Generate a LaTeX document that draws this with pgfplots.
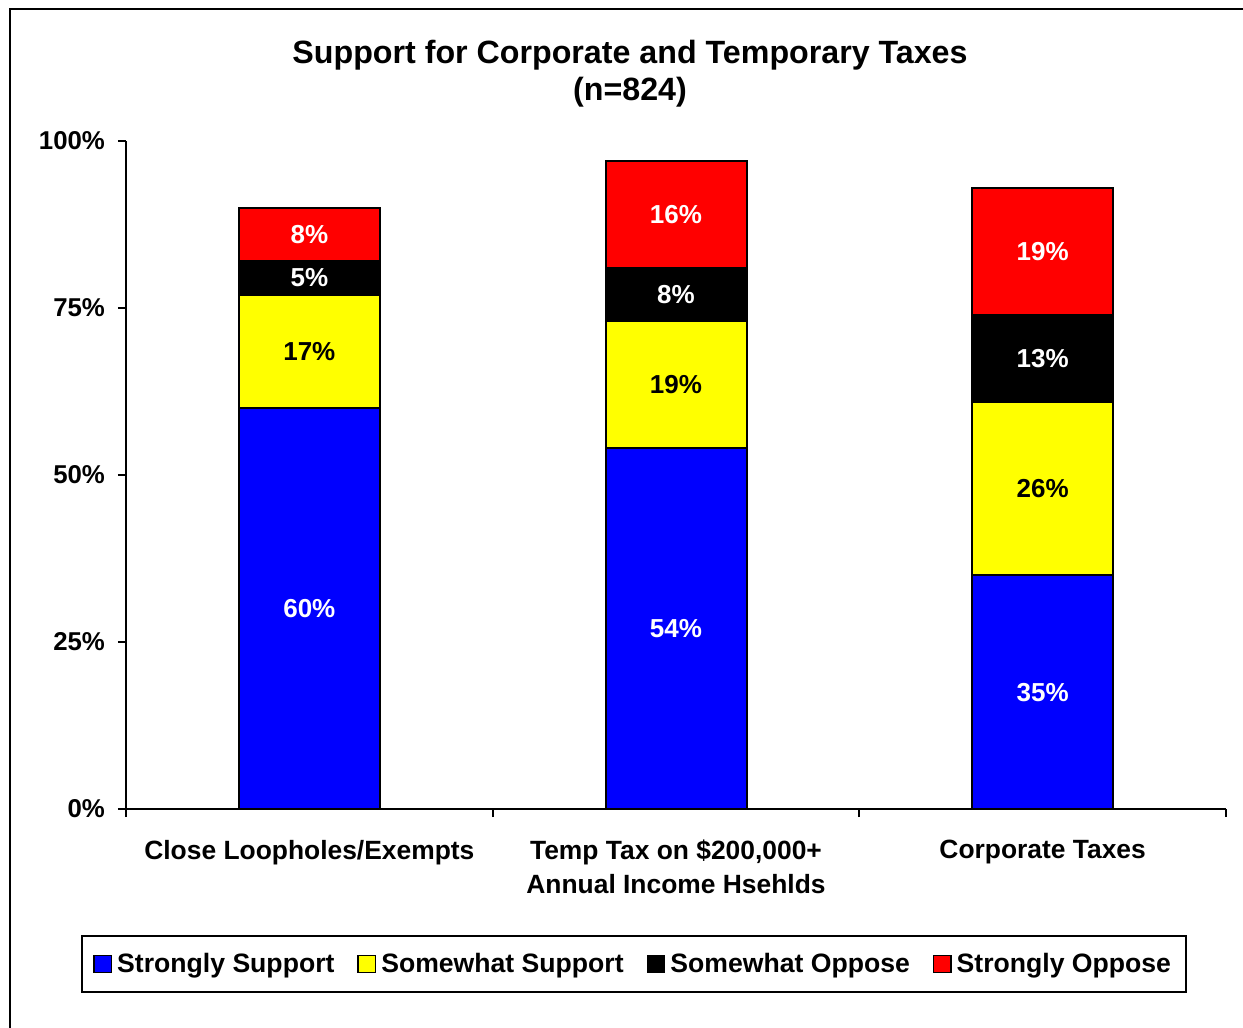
\documentclass[border=0pt]{standalone}
\usepackage{pgfplots}
\pgfplotsset{compat=1.18}
\usepackage{pgfplotstable}
\usepackage{fontspec}
\setmainfont{Liberation Sans}

\pgfplotstableread{
x ss sws swo so
0.5 60 17 5 8
1.5 54 19 8 16
2.5 35 26 13 19
}\data

% label positions (segment midpoints) and values
\pgfplotstableread{
x y v
0.5 30 60
1.5 27 54
2.5 17.5 35
0.5 79.5 5
1.5 77 8
2.5 67.5 13
0.5 86 8
1.5 89 16
2.5 83.5 19
}\whitelabels
\pgfplotstableread{
x y v
0.5 68.5 17
1.5 63.5 19
2.5 48 26
}\blacklabels

\definecolor{cblue}{RGB}{0,0,255}
\definecolor{cyellow}{RGB}{255,255,0}
\definecolor{cred}{RGB}{255,0,0}

\pgfplotsset{
  sq/.style={legend image code/.code={\draw[##1, line width=0.6pt, draw=black] (0pt,-4.4pt) rectangle (8.8pt,4.4pt);}},
  geom/.style={at={(63pt,-404.5pt)}, anchor=south west,
    scale only axis, width=550pt, height=334pt,
    xmin=0, xmax=3, ymin=0, ymax=100},
}

\begin{document}
\begin{tikzpicture}
\path[use as bounding box] (0pt,0pt) rectangle (621.5pt,-514pt);
\draw[line width=1.2pt] (5pt,-514pt) -- (5pt,-4.6pt) -- (621.5pt,-4.6pt);
\node[font=\bfseries\fontsize{16.1}{18.5}\selectfont, align=center] at (315pt,-37pt) {Support for Corporate and Temporary Taxes\\(n=824)};
\begin{axis}[
  geom,
  ybar stacked, bar width=70.5pt,
  axis lines*=left,
  axis line style={line width=1pt},
  every tick/.style={line width=1pt, black},
  tick align=outside, major tick length=4pt,
  xtick={0,1,2,3}, xticklabels={},
  extra x ticks={0.5,1.5,2.5},
  extra x tick labels={Close Loopholes/Exempts, {Temp Tax on \$200,000+\\Annual Income Hsehlds}, Corporate Taxes},
  extra x tick style={major tick length=0pt},
  x tick label style={align=center, yshift=-12pt, font=\bfseries\fontsize{13.2}{17}\selectfont},
  ytick={0,25,50,75,100},
  yticklabels={0\%,25\%,50\%,75\%,100\%},
  y tick label style={xshift=-3pt, font=\bfseries\fontsize{12.9}{15}\selectfont},
  legend style={at={(0.462,-0.232)}, anchor=center, legend columns=-1, draw=black, line width=1pt,
    font=\bfseries\fontsize{13.3}{15}\selectfont, inner xsep=5.5pt, inner ysep=6.5pt,
    /tikz/every odd column/.append style={column sep=0.5pt},
    /tikz/every even column/.append style={column sep=9.5pt}},
  legend cell align=left,
]
\addplot[fill=cblue, draw=black, line width=1pt, sq] table[x=x, y=ss] {\data};
\addplot[fill=cyellow, draw=black, line width=1pt, sq] table[x=x, y=sws] {\data};
\addplot[fill=black, draw=black, line width=1pt, sq] table[x=x, y=swo] {\data};
\addplot[fill=cred, draw=black, line width=1pt, sq] table[x=x, y=so] {\data};
\legend{Strongly Support, Somewhat Support, Somewhat Oppose, Strongly Oppose}
\end{axis}
\begin{axis}[geom, hide axis]
\addplot[draw=none, mark=none, nodes near coords={\pgfplotspointmeta\%}, point meta=explicit symbolic,
  every node near coord/.append style={anchor=center, text=white, font=\bfseries\fontsize{13}{15}\selectfont}]
  table[x=x, y=y, meta=v] {\whitelabels};
\addplot[draw=none, mark=none, nodes near coords={\pgfplotspointmeta\%}, point meta=explicit symbolic,
  every node near coord/.append style={anchor=center, text=black, font=\bfseries\fontsize{13}{15}\selectfont}]
  table[x=x, y=y, meta=v] {\blacklabels};
\end{axis}
\end{tikzpicture}
\end{document}
